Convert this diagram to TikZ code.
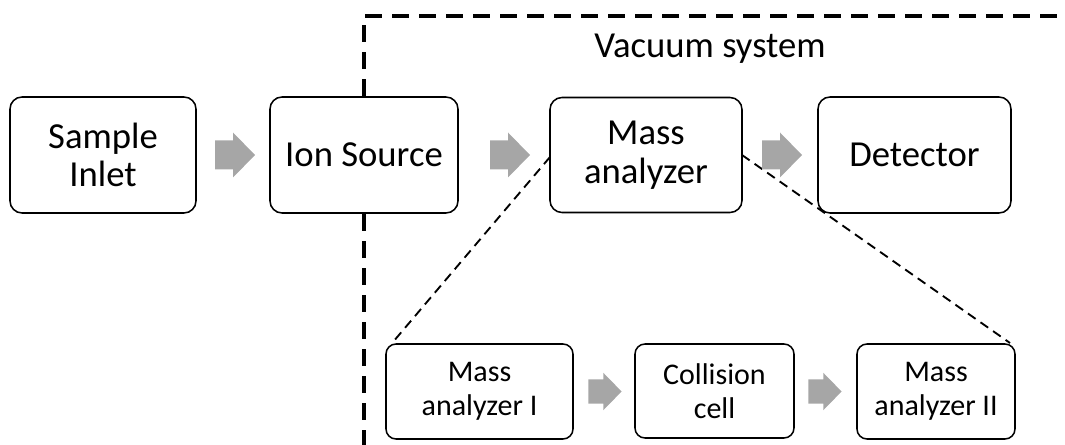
\documentclass[tikz,border=0pt]{standalone}
\usepackage{fontspec}
\setmainfont{Carlito}
\usetikzlibrary{calc}

% lengths given in pixels of the drawing grid
\newcommand{\pxl}[1]{#1*0.75pt}

\definecolor{arrowgray}{RGB}{166,166,166}
\tikzset{
  stage/.style={draw=black, line width=1.15pt, rounded corners=9pt, fill=white,
    inner sep=0pt, outer sep=0pt, align=center,
    font=\fontsize{27.5}{29}\selectfont},
  substage/.style={stage, rounded corners=7.5pt,
    font=\fontsize{22.5}{25.5}\selectfont},
  frameline/.style={line width=3pt, dash pattern=on 12.75pt off 7.5pt},
  zoomline/.style={line width=1.4pt, dash pattern=on 7pt off 4.5pt},
  flowarrow/.pic={
    \fill[arrowgray] (-20,-14.5) -- (-2,-14.5) -- (-2,-22.5) -- (20,0)
      -- (-2,22.5) -- (-2,14.5) -- (-20,14.5) -- cycle;
  },
}

\begin{document}
\begin{tikzpicture}[x=0.75pt, y=-0.75pt]
  \useasboundingbox (0,0) rectangle (1065,445);

  % vacuum system enclosure
  \coordinate (vacbottom) at (364,447);
  \coordinate (vaccorner) at (364,16);
  \coordinate (vacright) at (1067,16);
  \draw[frameline] (vacbottom) -- (vaccorner) -- (vacright);
  \node[anchor=base, font=\fontsize{27.5}{30}\selectfont] (vac) at (710,58) {Vacuum system};

  % main stages
  \node[stage, minimum width=\pxl{186}, minimum height=\pxl{116}] (inlet) at (103,155) {Sample\\Inlet};
  \node[stage, minimum width=\pxl{188}, minimum height=\pxl{116}] (source) at (364,155) {Ion Source};
  \node[stage, minimum width=\pxl{192}, minimum height=\pxl{115}] (analyzer) at (646,155) {Mass\\analyzer};
  \node[stage, minimum width=\pxl{193}, minimum height=\pxl{116}] (detector) at (914.5,155) {Detector};

  % tandem arrangement of the analyzer
  \node[substage, minimum width=\pxl{187}, minimum height=\pxl{95}] (msone) at (479.5,391.5) {Mass\\analyzer I};
  \node[substage, minimum width=\pxl{159}, minimum height=\pxl{94}] (cell) at (714.5,391) {Collision\\cell};
  \node[substage, minimum width=\pxl{158}, minimum height=\pxl{95}] (mstwo) at (936,391.5) {Mass\\analyzer II};

  % zoom lines from the analyzer to its tandem parts
  \draw[zoomline] ($(analyzer.west)+(0,2)$) -- ($(msone.north west)+(7,-2)$);
  \draw[zoomline] (analyzer.east) -- ($(mstwo.north east)+(-5,-1)$);

  % flow arrows
  \pic at (235,155) {flowarrow};
  \pic at (510,155) {flowarrow};
  \pic at (782,155) {flowarrow};
  \pic[scale=0.83] at (605,391.5) {flowarrow};
  \pic[scale=0.83] at (825,391.5) {flowarrow};
\end{tikzpicture}
\end{document}
